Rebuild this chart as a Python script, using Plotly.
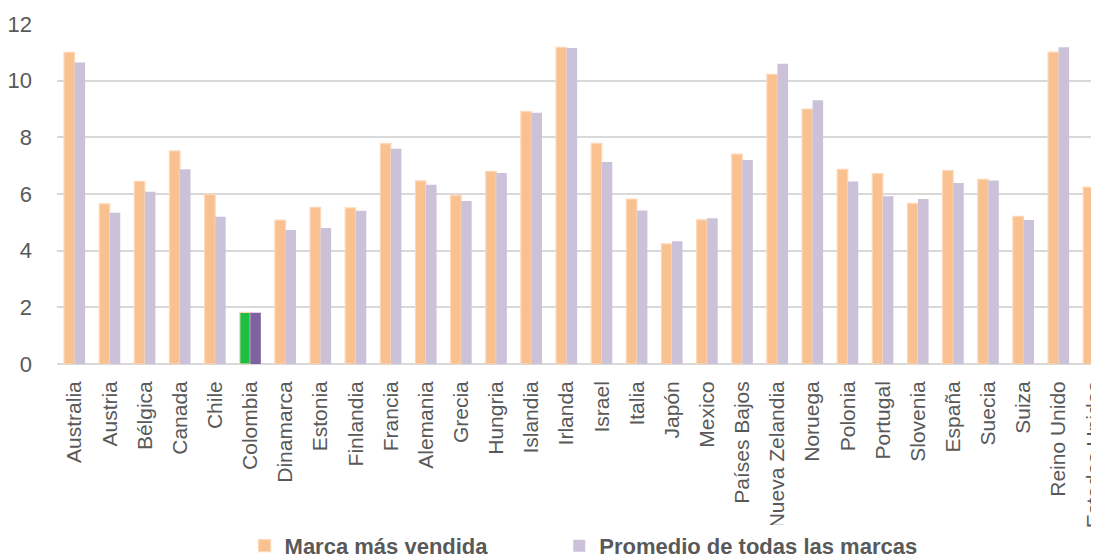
import plotly.graph_objects as go

countries = ["Australia", "Austria", "Bélgica", "Canada", "Chile", "Colombia", "Dinamarca",
             "Estonia", "Finlandia", "Francia", "Alemania", "Grecia", "Hungria", "Islandia",
             "Irlanda", "Israel", "Italia", "Japón", "Mexico", "Países Bajos", "Nueva Zelandia",
             "Noruega", "Polonia", "Portugal", "Slovenia", "España", "Suecia", "Suiza",
             "Reino Unido", "Estados Unidos"]
marca_mas_vendida = [11.00, 5.65, 6.45, 7.52, 5.99, 1.82, 5.08,
                     5.53, 5.51, 7.78, 6.46, 5.96, 6.80, 8.91,
                     11.18, 7.79, 5.82, 4.24, 5.09, 7.41, 10.22,
                     9.00, 6.87, 6.72, 5.67, 6.83, 6.52, 5.21,
                     11.01, 6.24]
promedio_marcas = [10.64, 5.34, 6.08, 6.87, 5.20, 1.81, 4.73,
                   4.80, 5.41, 7.60, 6.33, 5.75, 6.74, 8.87,
                   11.15, 7.13, 5.42, 4.33, 5.14, 7.20, 10.60,
                   9.31, 6.44, 5.92, 5.82, 6.39, 6.48, 5.08,
                   11.18, 6.06]
highlight = "Colombia"

ORANGE, ORANGE_EDGE, LILAC = "#F9C18F", "#FDD8B8", "#CBC2DA"
GREEN, DARK_PURPLE = "#1CBF40", "#7F63A1"

c1 = [GREEN if c == highlight else ORANGE for c in countries]
c2 = [DARK_PURPLE if c == highlight else LILAC for c in countries]

FONT = "Liberation Sans, Arial, sans-serif"
LEG_FONT = dict(family=FONT, size=22, color="#595959", weight="bold")

fig = go.Figure()
fig.add_trace(go.Bar(x=countries, y=marca_mas_vendida, name="Marca más vendida",
                     marker=dict(color=c1, line=dict(color=ORANGE_EDGE, width=1.2)),
                     legend="legend"))
fig.add_trace(go.Bar(x=countries, y=promedio_marcas, name="Promedio de todas las marcas",
                     marker=dict(color=c2, line=dict(width=0)),
                     legend="legend2"))

fig.update_layout(
    width=1091, height=550,
    margin=dict(l=49, r=0, t=16, b=194, autoexpand=False),
    paper_bgcolor="white", plot_bgcolor="white",
    barmode="group", bargap=0.40, bargroupgap=0,
    font=dict(family=FONT, color="#595959", size=21),
    showlegend=True,
    legend=dict(orientation="h", x=0.180, xanchor="left", y=-0.535, yanchor="middle",
                font=LEG_FONT),
    legend2=dict(orientation="h", x=0.482, xanchor="left", y=-0.535, yanchor="middle",
                 font=LEG_FONT),
    xaxis=dict(range=[-0.5, 29.15], tickangle=-90, showgrid=False, showline=False,
               ticks="", tickfont=dict(size=21, color="#595959"), ticklabelstandoff=12),
    yaxis=dict(range=[0, 12], dtick=2, showgrid=True, gridcolor="#D9D9D9", gridwidth=1.5,
               zeroline=True, zerolinecolor="#D9D9D9", zerolinewidth=1.5, showline=False,
               tickfont=dict(size=22, color="#595959"), ticklabelstandoff=24),
)

fig.write_html("out.html")
